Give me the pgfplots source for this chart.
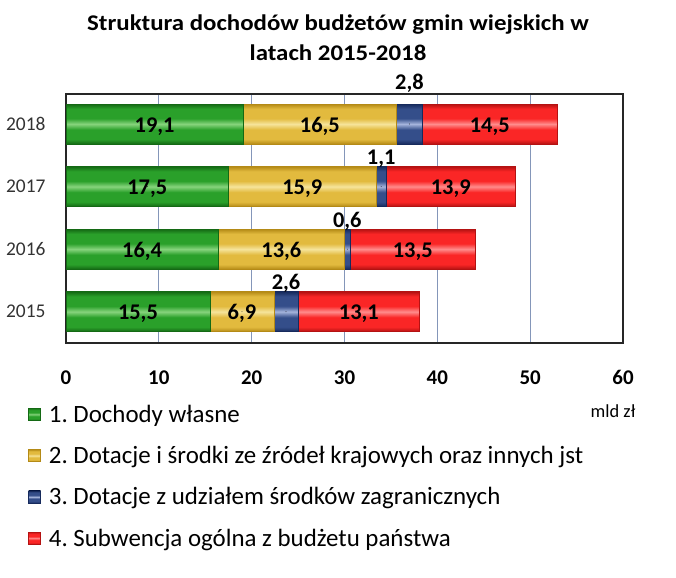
\documentclass[border=0pt]{standalone}
\usepackage{fontspec}
\setmainfont{Carlito}
\newfontfamily\titlefont{Carlito}[FakeStretch=1.11]
\usepackage{pgfplots}
\usepackage{pgfplotstable}
\pgfplotsset{compat=1.18}
\frenchspacing

\definecolor{gDark}{RGB}{20,105,20}
\definecolor{gMain}{RGB}{42,160,42}
\definecolor{gLight}{RGB}{135,212,125}
\definecolor{yDark}{RGB}{180,138,22}
\definecolor{yMain}{RGB}{226,186,62}
\definecolor{yLight}{RGB}{246,228,155}
\definecolor{bDark}{RGB}{22,42,92}
\definecolor{bMain}{RGB}{52,78,138}
\definecolor{bLight}{RGB}{165,180,220}
\definecolor{rDark}{RGB}{180,18,18}
\definecolor{rMain}{RGB}{250,38,38}
\definecolor{rLight}{RGB}{255,140,140}
\definecolor{gridc}{RGB}{132,150,185}

\pgfdeclareverticalshading{gshade}{100bp}{color(0bp)=(gDark); color(25bp)=(gDark); color(31bp)=(gMain); color(43bp)=(gMain); color(50bp)=(gLight); color(57bp)=(gMain); color(69bp)=(gMain); color(75bp)=(gDark); color(100bp)=(gDark)}
\pgfdeclareverticalshading{yshade}{100bp}{color(0bp)=(yDark); color(25bp)=(yDark); color(31bp)=(yMain); color(43bp)=(yMain); color(50bp)=(yLight); color(57bp)=(yMain); color(69bp)=(yMain); color(75bp)=(yDark); color(100bp)=(yDark)}
\pgfdeclareverticalshading{bshade}{100bp}{color(0bp)=(bDark); color(25bp)=(bDark); color(31bp)=(bMain); color(43bp)=(bMain); color(50bp)=(bLight); color(57bp)=(bMain); color(69bp)=(bMain); color(75bp)=(bDark); color(100bp)=(bDark)}
\pgfdeclareverticalshading{rshade}{100bp}{color(0bp)=(rDark); color(25bp)=(rDark); color(31bp)=(rMain); color(43bp)=(rMain); color(50bp)=(rLight); color(57bp)=(rMain); color(69bp)=(rMain); color(75bp)=(rDark); color(100bp)=(rDark)}

\pgfplotstableread{
pos year own nat for sub
0 2015 15.5 6.9 2.6 13.1
1 2016 16.4 13.6 0.6 13.5
2 2017 17.5 15.9 1.1 13.9
3 2018 19.1 16.5 2.8 14.5
}\data
% label positions: middle of each segment
\pgfplotstablecreatecol[create col/expr={\thisrow{own}/2}]{cown}\data
\pgfplotstablecreatecol[create col/expr={\thisrow{own}+\thisrow{nat}/2}]{cnat}\data
\pgfplotstablecreatecol[create col/expr={\thisrow{own}+\thisrow{nat}+\thisrow{for}/2}]{cfor}\data
\pgfplotstablecreatecol[create col/expr={\thisrow{own}+\thisrow{nat}+\thisrow{for}+\thisrow{sub}/2}]{csub}\data

\pgfplotsset{
  base/.style={
    at={(66bp,235bp)}, anchor=south west,
    scale only axis, width=557bp, height=249bp,
    xmin=0, xmax=60, ymin=-0.5, ymax=3.48,
  },
  barG/.style={shading=gshade, draw=gDark, line width=0.6bp},
  barY/.style={shading=yshade, draw=yDark, line width=0.6bp},
  barB/.style={shading=bshade, draw=bDark, line width=0.6bp},
  barR/.style={shading=rshade, draw=rDark, line width=0.6bp},
  lab/.style={
    only marks, mark=*, mark size=0.1pt, mark options={draw=none, fill=none},
    point meta=explicit,
    nodes near coords={\pgfmathprintnumber[use comma,fixed,fixed zerofill,precision=1,assume math mode=true]{\pgfplotspointmeta}},
    every node near coord/.append style={anchor=base, font=\fontsize{22.5}{26}\selectfont\bfseries, text=black, yshift=#1},
  },
}

\newcommand\yearbars[1]{%
\begin{axis}[base, hide axis, xbar stacked, bar width=0.64, restrict y to domain=#1]
\addplot[barG] table[x=own, y=pos] {\data};
\addplot[barY] table[x=nat, y=pos] {\data};
\addplot[barB] table[x=for, y=pos] {\data};
\addplot[barR] table[x=sub, y=pos] {\data};
\end{axis}}

\begin{document}
\begin{tikzpicture}
\path[use as bounding box] (0,0) rectangle (676bp,578bp);
\begin{axis}[
  base,
  xtick={0,10,...,60}, ytick={0,1,2,3},
  yticklabels={2015,2016,2017,2018},
  major tick length=0pt,
  xmajorgrids, major grid style={color=gridc, line width=0.9bp},
  axis line style={line width=1.3bp, color=black!85},
  /pgf/number format/assume math mode=true,
  xticklabel style={font=\fontsize{21}{25}\selectfont\bfseries, yshift=-24bp},
  yticklabel style={font=\fontsize{19.5}{23}\selectfont, text=black!80, xshift=-17bp},
  legend image code/.code={\path[#1] (0bp,-6bp) rectangle (12bp,6bp);},
  legend style={at={(axis description cs:-0.068,-0.24)}, anchor=north west, draw=none, fill=none,
    font=\fontsize{25}{29}\selectfont, row sep=18.5bp, inner sep=0pt,
    /tikz/every odd column/.append style={column sep=6bp}},
  legend cell align=left,
]
\addlegendimage{barG}
\addlegendentry{1. Dochody własne}
\addlegendimage{barY}
\addlegendentry{2. Dotacje i środki ze źródeł krajowych oraz innych jst}
\addlegendimage{barB}
\addlegendentry{3. Dotacje z udziałem środków zagranicznych}
\addlegendimage{barR}
\addlegendentry{4. Subwencja ogólna z budżetu państwa}
\end{axis}
\yearbars{-0.2:0.2}
\yearbars{0.8:1.2}
\yearbars{1.8:2.2}
\yearbars{2.8:3.2}
\begin{axis}[base, hide axis]
\addplot[lab=-8bp] table[x=cown, y=pos, meta=own] {\data};
\addplot[lab=-8bp] table[x=cnat, y=pos, meta=nat] {\data};
\addplot[lab=22bp, restrict y to domain=-0.5:2.5] table[x=cfor, y=pos, meta=for] {\data};
\addplot[lab=35bp, restrict y to domain=2.5:3.5] table[x=cfor, y=pos, meta=for] {\data};
\addplot[lab=-8bp] table[x=csub, y=pos, meta=sub] {\data};
\end{axis}
\node[anchor=base, font=\titlefont\fontsize{22.5}{26}\selectfont\bfseries] at (338bp,547bp) {Struktura dochodów budżetów gmin wiejskich w};
\node[anchor=base, font=\titlefont\fontsize{22.5}{26}\selectfont\bfseries] at (338bp,517bp) {latach 2015-2018};
\node[font=\fontsize{18.5}{22}\selectfont] at (613bp,167bp) {mld zł};
\end{tikzpicture}
\end{document}
